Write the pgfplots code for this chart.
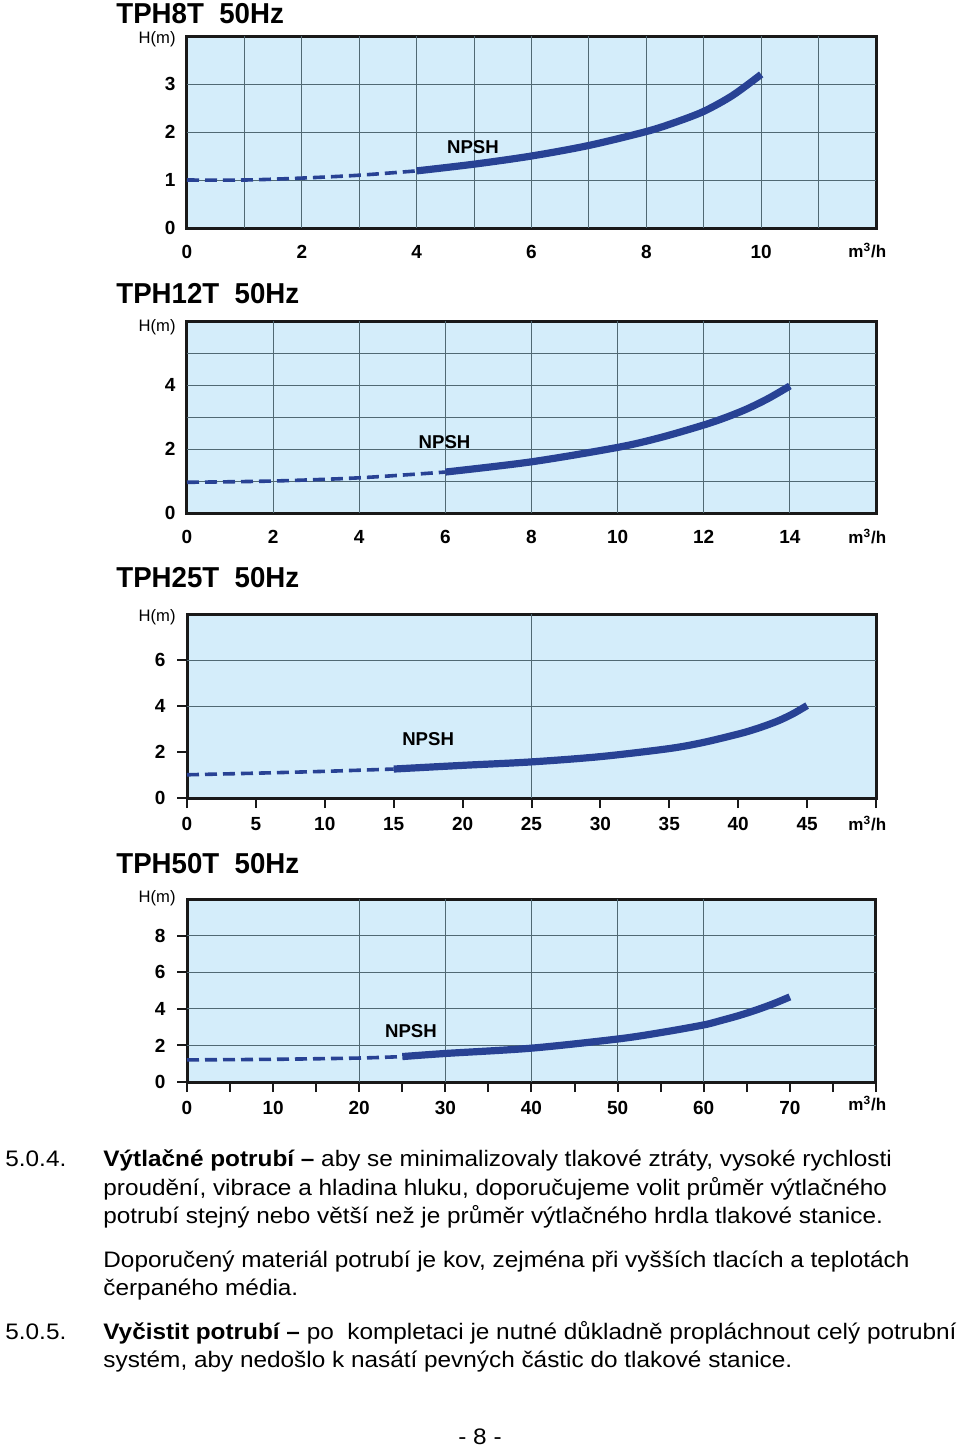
\documentclass[border=0pt]{standalone}
\usepackage{fontspec}
\setmainfont{Liberation Sans}
\newfontfamily\bodyf[FakeStretch=1.087]{Liberation Sans}
\newfontfamily\titlef[FakeStretch=0.96]{Liberation Sans}
\usepackage{pgfplots}
\pgfplotsset{compat=1.18}
\definecolor{bgblue}{RGB}{212,237,250}
\definecolor{gridc}{RGB}{80,105,115}
\definecolor{curvec}{RGB}{40,66,148}
\definecolor{framec}{RGB}{25,25,25}
\newcommand{\tickfont}{\bfseries\fontsize{9.5}{11}\selectfont}
\pgfplotsset{
  chart/.style={
    scale only axis, clip=false,
    axis background/.style={fill=bgblue},
    axis line style={draw=framec, line width=1.5pt},
    grid style={draw=gridc, line width=0.5pt},
    tick label style={font=\tickfont},
    /pgf/number format/assume math mode=true,
    extra x tick labels={}, extra y tick labels={},
    extra x tick style={grid=major, major tick length=0pt, tick style={draw=none}},
    extra y tick style={grid=major, major tick length=0pt, tick style={draw=none}},
  },
  notick/.style={major tick length=0pt, tick style={draw=none},
    xticklabel style={yshift=-5pt}, yticklabel style={xshift=-2.3pt}},
  outtick/.style={tick align=outside, tick pos=left, major tick length=5pt,
    tick style={draw=framec, line width=1pt},
    xticklabel style={yshift=-1pt}, yticklabel style={xshift=-2.3pt}},
  dsh/.style={curvec, line width=1.8pt, dash pattern=on 6pt off 3pt, smooth},
  sld/.style={curvec, line width=3.6pt, smooth},
}
\begin{document}
\begin{tikzpicture}
\useasboundingbox (0,0) rectangle (480pt,-724pt);
% ---------- Chart 1 ----------
\node[anchor=base west, inner sep=0pt, font=\titlef\bfseries\fontsize{14.4}{16}\selectfont] at (58pt,-11.5pt) {TPH8T\ \ 50Hz};
\node[anchor=base east, inner sep=0pt, font=\fontsize{8.3}{10}\selectfont] at (88pt,-21.5pt) {H(m)};
\node[anchor=base west, inner sep=0pt, font=\bfseries\fontsize{8.5}{10}\selectfont] at (424pt,-128.5pt) {m\textsuperscript{3}/h};
\begin{axis}[chart, notick, at={(93.5pt,-114pt)}, anchor=south west,
  width=344.5pt, height=96pt, xmin=0, xmax=12, ymin=0, ymax=4,
  xtick={0,2,4,6,8,10}, ytick={0,1,2,3},
  extra x ticks={1,2,3,4,5,6,7,8,9,10,11}, extra y ticks={1,2,3}]
\addplot[dsh] coordinates {(0,1.0) (1,1.0) (2,1.04) (3,1.10) (4,1.19)};
\addplot[sld] coordinates {(4,1.19) (5,1.33) (6,1.50) (7,1.72) (8,2.01) (8.5,2.2) (9,2.43) (9.5,2.76) (10,3.2)};
\node[font=\bfseries\fontsize{9.3}{11}\selectfont] at (axis cs:4.98,1.69) {NPSH};
\end{axis}
% ---------- Chart 2 ----------
\node[anchor=base west, inner sep=0pt, font=\titlef\bfseries\fontsize{14.4}{16}\selectfont] at (58pt,-151.5pt) {TPH12T\ \ 50Hz};
\node[anchor=base east, inner sep=0pt, font=\fontsize{8.3}{10}\selectfont] at (88pt,-165.5pt) {H(m)};
\node[anchor=base west, inner sep=0pt, font=\bfseries\fontsize{8.5}{10}\selectfont] at (424pt,-271.5pt) {m\textsuperscript{3}/h};
\begin{axis}[chart, notick, at={(93.5pt,-256.5pt)}, anchor=south west,
  width=344.5pt, height=96pt, xmin=0, xmax=16, ymin=0, ymax=6,
  xtick={0,2,4,6,8,10,12,14}, ytick={0,2,4},
  extra x ticks={2,4,6,8,10,12,14}, extra y ticks={1,2,3,4,5}]
\addplot[dsh] coordinates {(0,0.96) (2,1.0) (4,1.1) (6,1.28)};
\addplot[sld] coordinates {(6,1.28) (8,1.6) (10,2.05) (11,2.36) (12,2.75) (12.5,2.98) (13,3.25) (13.5,3.58) (14,3.97)};
\node[font=\bfseries\fontsize{9.3}{11}\selectfont] at (axis cs:5.98,2.23) {NPSH};
\end{axis}
% ---------- Chart 3 ----------
\node[anchor=base west, inner sep=0pt, font=\titlef\bfseries\fontsize{14.4}{16}\selectfont] at (58pt,-293.5pt) {TPH25T\ \ 50Hz};
\node[anchor=base east, inner sep=0pt, font=\fontsize{8.3}{10}\selectfont] at (88pt,-310.5pt) {H(m)};
\node[anchor=base west, inner sep=0pt, font=\bfseries\fontsize{8.5}{10}\selectfont] at (424pt,-415pt) {m\textsuperscript{3}/h};
\begin{axis}[chart, outtick, at={(93.5pt,-399pt)}, anchor=south west,
  width=344.5pt, height=92pt, xmin=0, xmax=50, ymin=0, ymax=8,
  xtick={0,5,...,50}, xticklabels={0,5,10,15,20,25,30,35,40,45,{}}, ytick={0,2,4,6},
  extra x ticks={25}, extra y ticks={4,6}]
\addplot[dsh] coordinates {(0,1.01) (5,1.08) (10,1.16) (15,1.26)};
\addplot[sld] coordinates {(15,1.26) (20,1.42) (25,1.57) (30,1.8) (35,2.15) (37.5,2.42) (40,2.78) (41,2.95) (42,3.15) (43,3.38) (44,3.67) (45,4.02)};
\node[font=\bfseries\fontsize{9.3}{11}\selectfont] at (axis cs:17.5,2.58) {NPSH};
\end{axis}
% ---------- Chart 4 ----------
\node[anchor=base west, inner sep=0pt, font=\titlef\bfseries\fontsize{14.4}{16}\selectfont] at (58pt,-436.5pt) {TPH50T\ \ 50Hz};
\node[anchor=base east, inner sep=0pt, font=\fontsize{8.3}{10}\selectfont] at (88pt,-451pt) {H(m)};
\node[anchor=base west, inner sep=0pt, font=\bfseries\fontsize{8.5}{10}\selectfont] at (424pt,-555pt) {m\textsuperscript{3}/h};
\begin{axis}[chart, outtick, at={(93.5pt,-541pt)}, anchor=south west,
  width=344.5pt, height=91.5pt, xmin=0, xmax=80, ymin=0, ymax=10,
  xtick={0,5,...,80}, xticklabels={0,,10,,20,,30,,40,,50,,60,,70,,}, ytick={0,2,4,6,8},
  extra x ticks={20,30,40,50,60}, extra y ticks={2,4,6,8}]
\addplot[dsh] coordinates {(0,1.21) (10,1.24) (20,1.31) (25,1.39)};
\addplot[sld] coordinates {(25,1.39) (30,1.56) (40,1.85) (50,2.35) (55,2.7) (60,3.12) (62,3.36) (64,3.62) (66,3.92) (68,4.26) (70,4.65)};
\node[font=\bfseries\fontsize{9.3}{11}\selectfont] at (axis cs:26,2.79) {NPSH};
\end{axis}
% ---------- Body text ----------
\begin{scope}[every node/.style={anchor=base west, inner sep=0pt, font=\bodyf\fontsize{11.2}{13}\selectfont}]
\node at (2.5pt,-583pt) {5.0.4.};
\node at (51.5pt,-583pt) {\textbf{Výtlačné potrubí –} aby se minimalizovaly tlakové ztráty, vysoké rychlosti};
\node at (51.5pt,-597.5pt) {proudění, vibrace a hladina hluku, doporučujeme volit průměr výtlačného};
\node at (51.5pt,-611.5pt) {potrubí stejný nebo větší než je průměr výtlačného hrdla tlakové stanice.};
\node at (51.5pt,-633.5pt) {Doporučený materiál potrubí je kov, zejména při vyšších tlacích a teplotách};
\node at (51.5pt,-647.5pt) {čerpaného média.};
\node at (2.5pt,-669.5pt) {5.0.5.};
\node at (51.5pt,-669.5pt) {\textbf{Vyčistit potrubí –} po\ \ kompletaci je nutné důkladně propláchnout celý potrubní};
\node at (51.5pt,-683.5pt) {systém, aby nedošlo k nasátí pevných částic do tlakové stanice.};
\node[anchor=base] at (240pt,-722pt) {- 8 -};
\end{scope}
\end{tikzpicture}
\end{document}
